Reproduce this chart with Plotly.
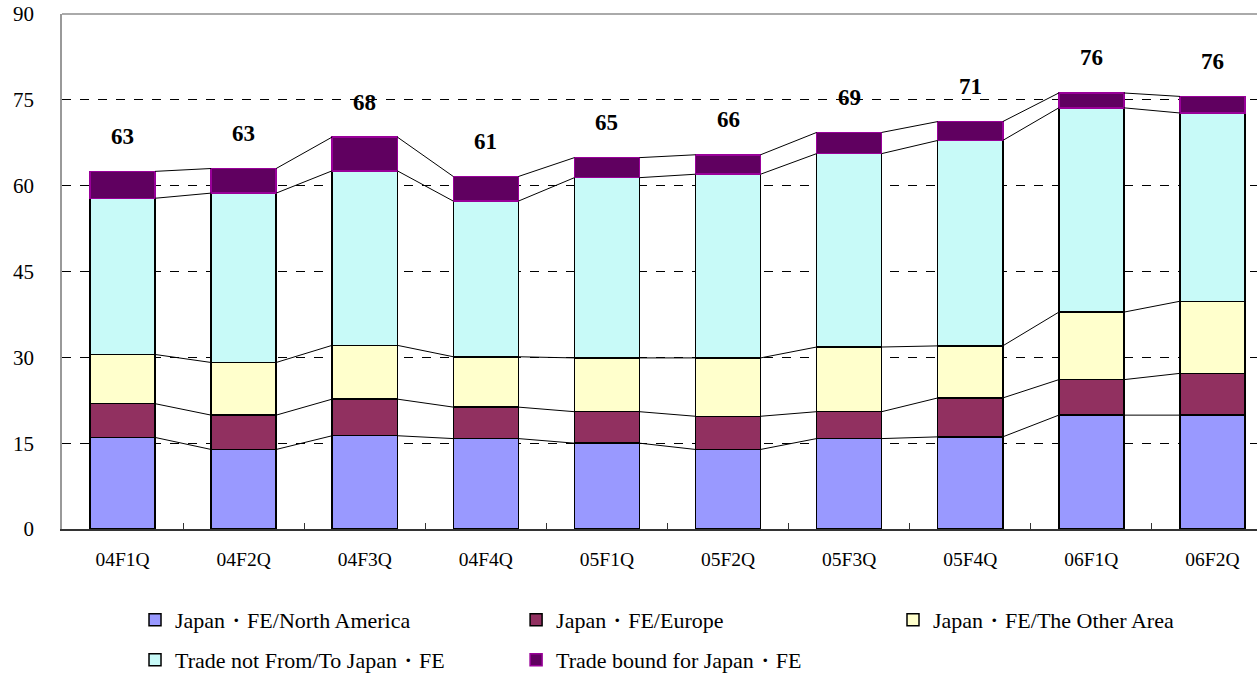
import numpy as np
import plotly.graph_objects as go

quarters = ["04F1Q", "04F2Q", "04F3Q", "04F4Q", "05F1Q", "05F2Q", "05F3Q", "05F4Q", "06F1Q", "06F2Q"]
north_america = [16.0, 13.9, 16.3, 15.8, 15.0, 13.9, 15.8, 16.1, 19.9, 19.9]
europe = [5.9, 6.0, 6.4, 5.5, 5.5, 5.8, 4.7, 6.8, 6.2, 7.3]
other_area = [8.6, 9.2, 9.4, 8.8, 9.4, 10.2, 11.3, 9.1, 11.8, 12.6]
not_japan = [27.3, 29.6, 30.5, 27.2, 31.5, 32.1, 33.8, 35.9, 35.7, 32.9]
bound_japan = [4.7, 4.3, 5.9, 4.3, 3.5, 3.4, 3.7, 3.3, 2.6, 2.9]
total_labels = [63, 63, 68, 61, 65, 66, 69, 71, 76, 76]
y_ticks = [0, 15, 30, 45, 60, 75, 90]

series = [
    ("Japan\u30FBFE/North America", north_america, "#9999FF", "#000000"),
    ("Japan\u30FBFE/Europe", europe, "#913060", "#000000"),
    ("Japan\u30FBFE/The Other Area", other_area, "#FFFFCC", "#000000"),
    ("Trade not From/To Japan\u30FBFE", not_japan, "#C8FAF8", "#000000"),
    ("Trade bound for Japan\u30FBFE", bound_japan, "#600060", "#990099"),
]
# legend slot (x, y in paper coords) for each series
legend_slots = [(0.0611, -0.1767), (0.380, -0.1767), (0.6954, -0.1767),
                (0.0611, -0.2544), (0.380, -0.2544)]

FONT = "Liberation Serif"
BAR_W = 0.537
x = np.arange(len(quarters))

fig = go.Figure()
legend_layout = {}
for k, (name, vals, color, line) in enumerate(series):
    leg = "legend" if k == 0 else f"legend{k + 1}"
    fig.add_trace(go.Bar(
        x=x, y=vals, name=name, width=BAR_W, legend=leg,
        marker=dict(color=color, line=dict(color=line, width=1.5)),
        hoverinfo="skip",
    ))
    lx, ly = legend_slots[k]
    legend_layout[leg] = dict(x=lx, y=ly, xanchor="left", yanchor="middle",
                              orientation="h", font=dict(family=FONT, size=22, color="black"),
                              itemwidth=30, bgcolor="rgba(0,0,0,0)", borderwidth=0)

# connector lines between stacked levels
cum = np.cumsum(np.array([s[1] for s in series]), axis=0)
for level in cum:
    xs, ys = [], []
    for i in range(len(quarters) - 1):
        xs += [x[i] + BAR_W / 2, x[i + 1] - BAR_W / 2, None]
        ys += [level[i], level[i + 1], None]
    fig.add_trace(go.Scatter(x=xs, y=ys, mode="lines", line=dict(color="black", width=1),
                             showlegend=False, hoverinfo="skip"))

totals = cum[-1]
for i, lab in enumerate(total_labels):
    fig.add_annotation(x=x[i], y=totals[i], text=f"<b>{lab}</b>", showarrow=False,
                       yshift=35, font=dict(family=FONT, size=23, color="black"))

fig.update_layout(
    width=1259, height=673,
    barmode="stack",
    plot_bgcolor="white", paper_bgcolor="white",
    margin=dict(l=62, r=2, t=14, b=144, autoexpand=False),
    font=dict(family=FONT, size=18, color="black"),
    xaxis=dict(range=[-0.5, 9.368], tickmode="array", tickvals=list(x), ticktext=quarters,
               ticks="", showgrid=False, zeroline=False, automargin=False,
               showline=True, linecolor="#333333", linewidth=2, mirror=False,
               tickfont=dict(family=FONT, size=19.5), ticklabelstandoff=12,
               ticklabeloverflow="allow",
               minor=dict(ticks="inside", tickmode="array", tickvals=list(x[:-1] + 0.5),
                          ticklen=6, tickcolor="#333333", showgrid=False)),
    yaxis=dict(range=[0, 90], tickmode="array", tickvals=y_ticks, automargin=False,
               showgrid=True, gridcolor="black", griddash="dash", gridwidth=1,
               zeroline=False, showline=True, linecolor="#999999", linewidth=1.5,
               ticks="", tickfont=dict(family=FONT, size=21), ticklabelstandoff=22,
               ticklabeloverflow="allow"),
    **legend_layout,
)
# top border of plot area
fig.add_shape(type="line", xref="paper", yref="paper", x0=0, x1=1, y0=1, y1=1,
              line=dict(color="#AAAAAA", width=2))

fig.write_html("out.html", config={"displayModeBar": False},
               post_script="document.body.style.margin='0px';")
